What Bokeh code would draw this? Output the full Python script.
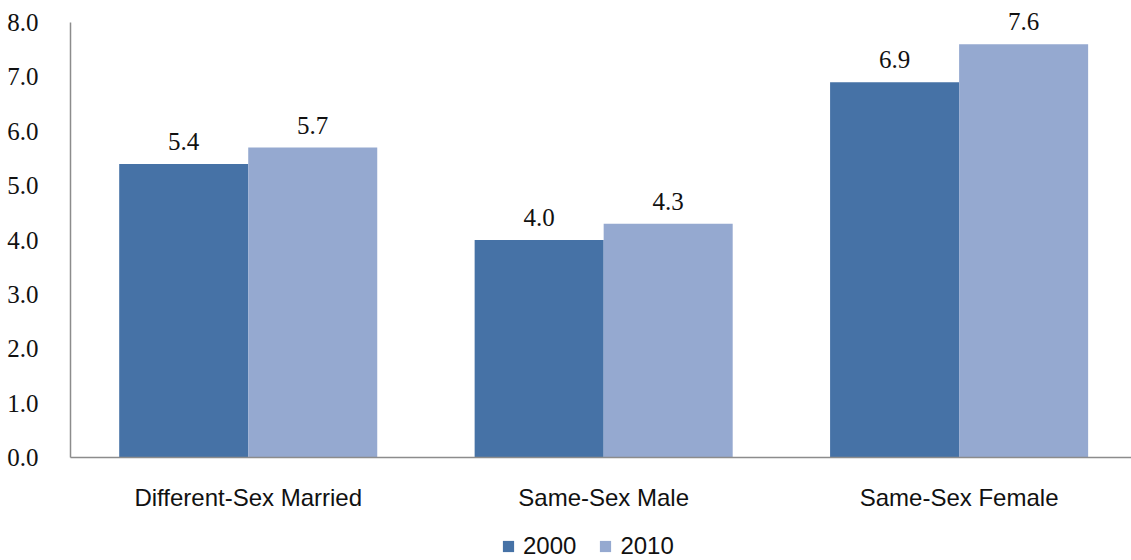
from bokeh.plotting import figure
from bokeh.models import ColumnDataSource, Legend, LegendItem, FixedTicker, Range1d
from bokeh.layouts import column
from bokeh.core.properties import value
from bokeh.embed import file_html
from bokeh.resources import INLINE

categories = ["Different-Sex Married", "Same-Sex Male", "Same-Sex Female"]
series_names = ["2000", "2010"]
values_2000 = [5.4, 4.0, 6.9]
values_2010 = [5.7, 4.3, 7.6]
y_ticks = [0, 1, 2, 3, 4, 5, 6, 7, 8]

colors = ["#4672A6", "#95A9D0"]
bar_w = 0.363
offsets = [-bar_w / 2, bar_w / 2]

p = figure(width=1131, height=516, output_backend="svg", toolbar_location=None,
           x_range=Range1d(0, 2.985), y_range=Range1d(0, 8.405),
           min_border_left=70, min_border_right=0, min_border_top=0, min_border_bottom=59)
p.outline_line_color = None
p.grid.grid_line_color = None
p.background_fill_color = "white"
p.border_fill_color = "white"

sources = []
for vals, off, col in zip([values_2000, values_2010], offsets, colors):
    xs = [i + 0.5 + off for i in range(len(categories))]
    src = ColumnDataSource(dict(x=xs, top=vals, lab=["%.1f" % v for v in vals]))
    sources.append(src)
    p.vbar(x="x", top="top", bottom=0, width=bar_w, source=src,
           fill_color=col, line_color=None)
    p.text(x="x", y="top", text="lab", source=src, text_align="center",
           text_baseline="bottom", y_offset=-14,
           text_font=value("Liberation Serif"), text_font_size="25px", text_color="#111111")

# axes
p.yaxis.bounds = (0, 8)
p.yaxis.ticker = FixedTicker(ticks=y_ticks)
p.yaxis.major_label_overrides = {t: "%.1f" % t for t in y_ticks}
p.yaxis.major_label_text_font = "Liberation Serif"
p.yaxis.major_label_text_font_size = "25px"
p.yaxis.major_label_text_color = "#111111"
p.yaxis.major_label_standoff = 26
p.yaxis.major_tick_line_color = None
p.yaxis.minor_tick_line_color = None
p.yaxis.axis_line_color = "#8c8c8c"
p.yaxis.axis_line_width = 1.5

xt = [i + 0.5 for i in range(len(categories))]
p.xaxis.ticker = FixedTicker(ticks=xt)
p.xaxis.major_label_overrides = {t: c for t, c in zip(xt, categories)}
p.xaxis.major_label_text_font = "Liberation Sans"
p.xaxis.major_label_text_font_size = "24px"
p.xaxis.major_label_text_color = "#111111"
p.xaxis.major_label_standoff = 20
p.xaxis.major_tick_line_color = None
p.xaxis.minor_tick_line_color = None
p.xaxis.axis_line_color = "#8c8c8c"
p.xaxis.axis_line_width = 1.5

# legend strip (its bars lie far outside its view; they only feed the legend)
lg = figure(width=1131, height=44, output_backend="svg", toolbar_location=None,
            x_axis_location=None, y_axis_location=None,
            x_range=Range1d(100, 101), y_range=Range1d(100, 101),
            min_border_left=0, min_border_right=0, min_border_top=0, min_border_bottom=0)
lg.outline_line_color = None
lg.grid.grid_line_color = None
lg_renderers = [lg.vbar(x="x", top="top", bottom=0, width=bar_w, source=src,
                        fill_color=col, line_color=None)
                for src, col in zip(sources, colors)]
legend = Legend(items=[LegendItem(label=n, renderers=[r]) for n, r in zip(series_names, lg_renderers)],
                orientation="horizontal", location=(431, 0),
                label_text_font="Liberation Sans", label_text_font_size="24px",
                label_text_color="#111111", glyph_width=14, glyph_height=14,
                label_standoff=8, spacing=22, padding=1, margin=0,
                border_line_color=None, background_fill_alpha=0)
lg.add_layout(legend, "center")

layout = column(p, lg, spacing=0)
open("out.html", "w").write(file_html(layout, INLINE))
